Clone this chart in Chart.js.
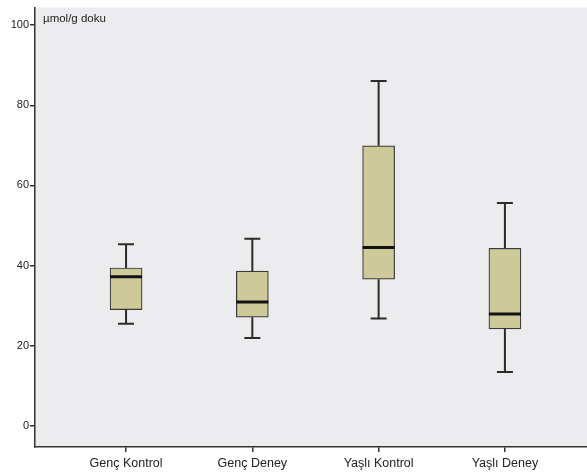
<!DOCTYPE html>
<html>
<head>
<meta charset="utf-8">
<script src="https://cdn.jsdelivr.net/npm/chart.js@4"></script>
<style>
  html, body { margin: 0; padding: 0; background: #fff; }
  .chart-container { width: 587px; height: 473px; }
</style>
</head>
<body>
<div class="chart-container"><canvas id="chart"></canvas></div>
<script>
// gruplar ve kutu grafiği değerleri
const CATEGORIES = ["Genç Kontrol", "Genç Deney", "Yaşlı Kontrol", "Yaşlı Deney"];
const MINS    = [25.5, 21.9, 26.8, 13.4];
const Q1S     = [29.0, 27.1, 36.6, 24.2];
const MEDIANS = [37.2, 30.9, 44.5, 27.9];
const Q3S     = [39.4, 38.6, 69.9, 44.3];
const MAXS    = [45.3, 46.7, 86.1, 55.6];
const Y_TICKS = [0, 20, 40, 60, 80, 100];
const Y_LABEL = "µmol/g doku";

const FONT = "'Liberation Sans', Arial, sans-serif";
const BOX_WIDTH = 32;
const CAP_WIDTH = 16;

// fundo cinza da área do gráfico
const plotBackground = {
  id: "plotBackground",
  beforeDraw(chart) {
    const { ctx, chartArea: a } = chart;
    ctx.save();
    ctx.fillStyle = "#ececee";
    ctx.fillRect(a.left, a.top, a.right - a.left, a.bottom - a.top);
    ctx.restore();
  }
};

// bigodes e medianas
const boxExtras = {
  id: "boxExtras",
  afterDatasetsDraw(chart) {
    const { ctx, scales: { x, y } } = chart;
    ctx.save();
    CATEGORIES.forEach((c, i) => {
      const px = x.getPixelForValue(i + 1);
      const yMin = y.getPixelForValue(MINS[i]);
      const yMax = y.getPixelForValue(MAXS[i]);
      const yQ1 = y.getPixelForValue(Q1S[i]);
      const yQ3 = y.getPixelForValue(Q3S[i]);
      const yMed = y.getPixelForValue(MEDIANS[i]);

      ctx.strokeStyle = "#2b2b2b";
      ctx.lineWidth = 2;
      ctx.beginPath();
      ctx.moveTo(px, yQ3); ctx.lineTo(px, yMax);
      ctx.moveTo(px, yQ1); ctx.lineTo(px, yMin);
      ctx.moveTo(px - CAP_WIDTH / 2, yMax); ctx.lineTo(px + CAP_WIDTH / 2, yMax);
      ctx.moveTo(px - CAP_WIDTH / 2, yMin); ctx.lineTo(px + CAP_WIDTH / 2, yMin);
      ctx.stroke();

      ctx.strokeStyle = "#111";
      ctx.lineWidth = 3;
      ctx.beginPath();
      ctx.moveTo(px - BOX_WIDTH / 2, yMed); ctx.lineTo(px + BOX_WIDTH / 2, yMed);
      ctx.stroke();
    });

    const a = chart.chartArea;
    ctx.fillStyle = "#222";
    ctx.font = "11.5px " + FONT;
    ctx.textBaseline = "alphabetic";
    ctx.fillText(Y_LABEL, a.left + 8, a.top + 14);
    ctx.restore();
  }
};

new Chart(document.getElementById("chart").getContext("2d"), {
  type: "bar",
  data: {
    datasets: [{
      data: CATEGORIES.map((c, i) => ({ x: i + 1, y: [Q1S[i], Q3S[i]] })),
      backgroundColor: "rgb(205, 201, 152)",
      borderColor: "#3a3a3a",
      borderWidth: 1.2,
      borderSkipped: false,
      barThickness: BOX_WIDTH
    }]
  },
  options: {
    responsive: true,
    maintainAspectRatio: false,
    animation: false,
    layout: { padding: { top: 5, right: 0, left: 0, bottom: 0 } },
    plugins: {
      legend: { display: false },
      tooltip: { enabled: false }
    },
    scales: {
      x: {
        type: "linear",
        offset: false,
        min: 0.279,
        max: 4.65,
        afterBuildTicks: s => { s.ticks = CATEGORIES.map((c, i) => ({ value: i + 1 })); },
        afterFit: s => { s.height = 26; },
        ticks: {
          callback: v => CATEGORIES[v - 1],
          color: "#222",
          font: { family: FONT, size: 12.5 },
          padding: 4,
          maxRotation: 0,
          autoSkip: false
        },
        grid: { display: true, offset: false, drawOnChartArea: false, tickLength: 5, color: "#333", lineWidth: 1.5 },
        border: { display: true, color: "#333", width: 1.5 }
      },
      y: {
        min: -5.3,
        max: 104.4,
        afterBuildTicks: s => { s.ticks = Y_TICKS.map(v => ({ value: v })); },
        afterFit: s => { s.width = 35; },
        ticks: {
          color: "#222",
          font: { family: FONT, size: 11 },
          padding: 1
        },
        grid: { display: true, drawOnChartArea: false, tickLength: 5, color: "#333", lineWidth: 1.5 },
        border: { display: true, color: "#333", width: 1.5 }
      }
    }
  },
  plugins: [plotBackground, boxExtras]
});
</script>
</body>
</html>
